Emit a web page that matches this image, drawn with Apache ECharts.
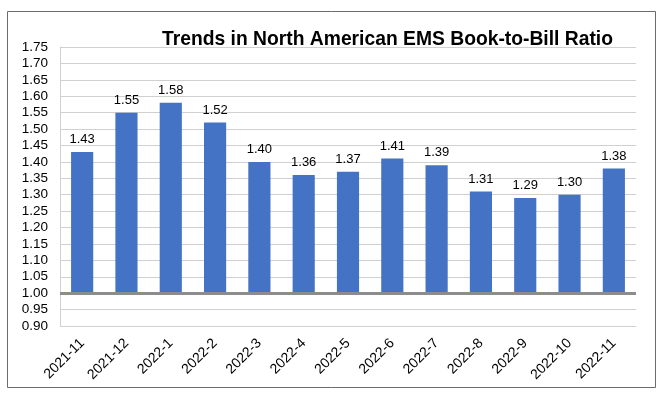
<!DOCTYPE html>
<html>
<head>
<meta charset="utf-8">
<script src="https://cdn.jsdelivr.net/npm/echarts@6/dist/echarts.min.js"></script>
<style>
    html, body { margin: 0; padding: 0; background: #fff; }
    #chart { width: 667px; height: 398px; }
</style>
</head>
<body>
<div id="chart"></div>
<script>
    // months and ratios
    const months = ['2021-11', '2021-12', '2022-1', '2022-2', '2022-3', '2022-4', '2022-5',
        '2022-6', '2022-7', '2022-8', '2022-9', '2022-10', '2022-11'];
    const ratios = [1.43, 1.55, 1.58, 1.52, 1.40, 1.36, 1.37, 1.41, 1.39, 1.31, 1.29, 1.30, 1.38];
    const baseline = 1.00;   // bars grow from 1.00, not from the axis bottom
    const yMin = 0.90, yMax = 1.75, yStep = 0.05;

    // shift everything so the bar base (0) sits on 1.00
    const shifted = ratios.map(v => +(v - baseline).toFixed(4));

    const font = 'Arial, "Liberation Sans", sans-serif';

    let option = {
        animation: false,
        title: {
            text: 'Trends in North American EMS Book-to-Bill Ratio',
            left: 157,
            top: 25,
            textStyle: { fontFamily: font, fontSize: 19.3, fontWeight: 'bold', color: '#000' }
        },
        graphic: [{
            type: 'rect',
            shape: { x: 7.5, y: 11.5, width: 648, height: 376 },
            style: { fill: 'none', stroke: '#6b6b6b', lineWidth: 1 },
            silent: true
        }],
        grid: { left: 60, right: 31, top: 47, bottom: 72 },
        xAxis: {
            type: 'category',
            data: months,
            axisLine: { show: false },
            axisTick: { show: false },
            axisLabel: {
                rotate: 45,
                margin: 15,
                interval: 0,
                fontFamily: font,
                fontSize: 14,
                color: '#000'
            }
        },
        yAxis: {
            type: 'value',
            min: +(yMin - baseline).toFixed(2),
            max: +(yMax - baseline).toFixed(2),
            interval: yStep,
            axisLine: { show: true, lineStyle: { color: '#d0d0d0', width: 1 } },
            axisTick: { show: false },
            splitLine: { lineStyle: { color: '#d0d0d0', width: 1 } },
            axisLabel: {
                margin: 12,
                fontFamily: font,
                fontSize: 13.5,
                color: '#000',
                formatter: v => (v + baseline).toFixed(2)
            }
        },
        series: [{
            type: 'bar',
            data: shifted,
            barWidth: '50%',
            itemStyle: { color: '#4472c4' },
            label: {
                show: true,
                position: 'top',
                distance: 6,
                fontFamily: font,
                fontSize: 13,
                color: '#000',
                formatter: p => ratios[p.dataIndex].toFixed(2)
            },
            markLine: {
                silent: true,
                symbol: 'none',
                label: { show: false },
                lineStyle: { color: '#8c8c8c', width: 3, type: 'solid' },
                data: [{ yAxis: 0 }]
            }
        }]
    };

    let myChart = echarts.init(document.getElementById('chart'));
    myChart.setOption(option);
</script>
</body>
</html>
